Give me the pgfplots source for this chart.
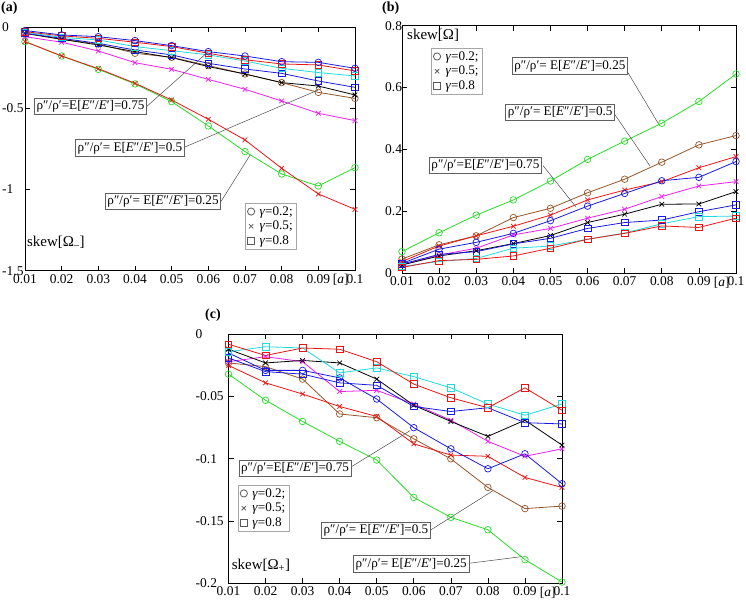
\documentclass[border=0pt]{standalone}
\usepackage{pgfplots}
\pgfplotsset{compat=1.18}
\usepackage{pgfplotstable}
\usepackage{fontspec}
\setmainfont{Liberation Serif}
\newcommand\fs{\fontsize{13.2}{15}\selectfont}
\newcommand\ft{\fontsize{13.5}{15}\selectfont}
\newcommand\fl{\fontsize{15}{17}\selectfont}
\definecolor{cgreen}{RGB}{40,220,40}
\definecolor{cred}{RGB}{235,20,20}
\definecolor{cblue}{RGB}{25,25,225}
\definecolor{cmag}{RGB}{235,30,235}
\definecolor{ccyan}{RGB}{30,220,220}
\definecolor{cbrown}{RGB}{150,85,40}

\pgfplotstableread{
x go rx bo rs cs bs kx bro mx
0.01 -0.088 -0.088 -0.020 -0.027 -0.031 -0.037 -0.037 -0.037 -0.058
0.02 -0.177 -0.177 -0.047 -0.053 -0.062 -0.068 -0.074 -0.074 -0.092
0.03 -0.259 -0.255 -0.058 -0.068 -0.078 -0.099 -0.109 -0.103 -0.146
0.04 -0.349 -0.345 -0.082 -0.092 -0.119 -0.140 -0.150 -0.160 -0.218
0.05 -0.458 -0.448 -0.113 -0.119 -0.144 -0.170 -0.187 -0.185 -0.259
0.06 -0.608 -0.567 -0.150 -0.160 -0.170 -0.222 -0.242 -0.236 -0.321
0.07 -0.766 -0.694 -0.177 -0.200 -0.208 -0.257 -0.288 -0.288 -0.382
0.08 -0.904 -0.869 -0.212 -0.226 -0.253 -0.284 -0.341 -0.341 -0.454
0.09 -0.978 -1.027 -0.216 -0.232 -0.279 -0.331 -0.362 -0.401 -0.530
0.10 -0.865 -1.122 -0.253 -0.269 -0.300 -0.370 -0.417 -0.438 -0.575
}\taba

\pgfplotstableread{
x go bro rx bo mx kx bs cs rs
0.01 0.070 0.046 0.038 0.032 0.027 0.027 0.030 0.022 0.019
0.02 0.131 0.092 0.088 0.078 0.059 0.056 0.061 0.038 0.041
0.03 0.188 0.121 0.121 0.100 0.081 0.073 0.070 0.048 0.045
0.04 0.237 0.180 0.152 0.129 0.124 0.096 0.095 0.081 0.056
0.05 0.298 0.210 0.188 0.170 0.145 0.122 0.113 0.088 0.081
0.06 0.368 0.260 0.237 0.217 0.178 0.164 0.145 0.110 0.110
0.07 0.427 0.304 0.269 0.258 0.207 0.191 0.164 0.130 0.129
0.08 0.485 0.359 0.296 0.299 0.248 0.223 0.172 0.160 0.153
0.09 0.555 0.415 0.341 0.310 0.282 0.224 0.199 0.183 0.148
0.10 0.644 0.445 0.377 0.361 0.296 0.264 0.221 0.185 0.178
}\tabb

\pgfplotstableread{
x go bro rx bo mx kx bs cs rs
0.01 -0.032 -0.023 -0.025 -0.015 -0.022 -0.012 -0.019 -0.014 -0.008
0.02 -0.053 -0.026 -0.039 -0.029 -0.018 -0.023 -0.030 -0.010 -0.017
0.03 -0.070 -0.036 -0.048 -0.029 -0.022 -0.021 -0.032 -0.011 -0.011
0.04 -0.086 -0.064 -0.058 -0.035 -0.046 -0.023 -0.039 -0.031 -0.012
0.05 -0.101 -0.067 -0.066 -0.052 -0.045 -0.036 -0.041 -0.027 -0.022
0.06 -0.131 -0.084 -0.088 -0.075 -0.056 -0.057 -0.058 -0.034 -0.040
0.07 -0.147 -0.100 -0.097 -0.092 -0.069 -0.070 -0.062 -0.043 -0.051
0.08 -0.157 -0.123 -0.098 -0.108 -0.086 -0.082 -0.059 -0.056 -0.059
0.09 -0.181 -0.140 -0.115 -0.096 -0.098 -0.069 -0.071 -0.065 -0.043
0.10 -0.199 -0.138 -0.123 -0.120 -0.092 -0.089 -0.072 -0.056 -0.061
}\tabc

\tikzset{
  lbox/.style={draw=gray!75!black, line width=0.8pt, fill=white, inner sep=2.2pt, font=\fs},
  lead/.style={draw=black!70, line width=0.5pt},
}
\pgfplotsset{
  panel/.style={
    scale only axis, clip=false,
    xmin=0.01, xmax=0.1,
    xtick={0.01,0.02,0.03,0.04,0.05,0.06,0.07,0.08,0.09,0.1},
    xticklabels={0.01,0.02,0.03,0.04,0.05,0.06,0.07,0.08,0.09,0.1},
    tick align=inside,
    major tick length=5bp,
    tick style={black, line width=0.6pt},
    axis line style={black, line width=0.9pt},
    x tick label style={font=\ft},
    y tick label style={font=\ft, anchor=west, inner xsep=0pt},
    legend cell align=left,
    legend style={draw=gray!70, line width=0.8pt, font=\fs, inner xsep=2pt, inner ysep=2pt,
      row sep=2.5pt, column sep=3pt, nodes={inner xsep=2pt, inner ysep=1pt}},
  },
  ser/.style={#1, line width=0.8pt, mark size=3.3bp, mark options={solid, line width=0.7pt}},
}

\begin{document}
\begin{tikzpicture}[x=1bp,y=1bp]
\useasboundingbox (0,0) rectangle (746,600);
\node[anchor=north west, font=\bfseries\fontsize{14}{16}\selectfont, inner sep=0pt] at (1,598) {(a)};
\node[anchor=north west, font=\bfseries\fontsize{14}{16}\selectfont, inner sep=0pt] at (382,598) {(b)};
\node[anchor=north west, font=\bfseries\fontsize{14}{16}\selectfont, inner sep=0pt] at (205,291) {(c)};

% ---------------- (a)
\begin{axis}[panel, at={(25bp,329.3bp)}, anchor=south west, width=330bp, height=243.4bp,
  ymin=-1.5, ymax=0, ytick={0,-0.5,-1,-1.5}, yticklabels={0,-0.5,-1,-1.5},
  yticklabel style={xshift=-23bp},
  legend style={at={(0.667,0.278)}, anchor=north west}]
\addlegendimage{only marks, mark=o, black!65, mark size=3.6bp}
\addlegendimage{only marks, mark=x, black!65, mark size=3bp}
\addlegendimage{only marks, mark=square, black!65, mark size=3.6bp}
\legend{\textit{γ}=0.2;,\textit{γ}=0.5;,\textit{γ}=0.8}
\addplot[ser=cgreen, mark=o] table[x=x,y=go]{\taba};
\addplot[ser=cred, mark=x] table[x=x,y=rx]{\taba};
\addplot[ser=cbrown, mark=o] table[x=x,y=bro]{\taba};
\addplot[ser=black, mark=x] table[x=x,y=kx]{\taba};
\addplot[ser=cmag, mark=x] table[x=x,y=mx]{\taba};
\addplot[ser=cblue, mark=square] table[x=x,y=bs]{\taba};
\addplot[ser=ccyan, mark=square] table[x=x,y=cs]{\taba};
\addplot[ser=cred, mark=square] table[x=x,y=rs]{\taba};
\addplot[ser=cblue, mark=o] table[x=x,y=bo]{\taba};
\draw[lead] (axis cs:0.0433,-0.486) -- (axis cs:0.0599,-0.152);
\draw[lead] (axis cs:0.0536,-0.738) -- (axis cs:0.0899,-0.387);
\draw[lead] (axis cs:0.0635,-1.072) -- (axis cs:0.0714,-0.787);
\node[lbox, anchor=east] at (axis cs:0.0433,-0.488) {ρ″/ρ′=E[\textit{E}″/\textit{E}′]=0.75};
\node[lbox, anchor=east] at (axis cs:0.0536,-0.744) {ρ″/ρ′= E[\textit{E}″/\textit{E}′]=0.5};
\node[lbox, anchor=east] at (axis cs:0.0635,-1.074) {ρ″/ρ′= E[\textit{E}″/\textit{E}′]=0.25};
\node[anchor=west, font=\fl, inner sep=0pt] at (axis description cs:0.006,0.118) {skew[Ω\textsubscript{–}]};
\node[anchor=north, font=\ft] at (axis description cs:0.957,0) {[\textit{a}]};
\end{axis}

% ---------------- (b)
\begin{axis}[panel, at={(402bp,326.7bp)}, anchor=south west, width=334bp, height=247.6bp,
  ymin=0, ymax=0.8, ytick={0,0.2,0.4,0.6,0.8}, yticklabels={0,0.2,0.4,0.6,0.8},
  yticklabel style={xshift=-17bp},
  legend style={at={(0.087,0.91)}, anchor=north west}]
\addlegendimage{only marks, mark=o, black!65, mark size=3.6bp}
\addlegendimage{only marks, mark=x, black!65, mark size=3bp}
\addlegendimage{only marks, mark=square, black!65, mark size=3.6bp}
\legend{\textit{γ}=0.2;,\textit{γ}=0.5;,\textit{γ}=0.8}
\addplot[ser=cgreen, mark=o] table[x=x,y=go]{\tabb};
\addplot[ser=cbrown, mark=o] table[x=x,y=bro]{\tabb};
\addplot[ser=cred, mark=x] table[x=x,y=rx]{\tabb};
\addplot[ser=cblue, mark=o] table[x=x,y=bo]{\tabb};
\addplot[ser=cmag, mark=x] table[x=x,y=mx]{\tabb};
\addplot[ser=black, mark=x] table[x=x,y=kx]{\tabb};
\addplot[ser=cblue, mark=square] table[x=x,y=bs]{\tabb};
\addplot[ser=ccyan, mark=square] table[x=x,y=cs]{\tabb};
\addplot[ser=cred, mark=square] table[x=x,y=rs]{\tabb};
\draw[lead] (axis cs:0.0709,0.648) -- (axis cs:0.0790,0.485);
\draw[lead] (axis cs:0.0674,0.512) -- (axis cs:0.0768,0.347);
\draw[lead] (axis cs:0.0480,0.348) -- (axis cs:0.0569,0.214);
\node[lbox, anchor=east] at (axis cs:0.0709,0.670) {ρ″/ρ′= E[\textit{E}″/\textit{E}′]=0.25};
\node[lbox, anchor=east] at (axis cs:0.0674,0.519) {ρ″/ρ′= E[\textit{E}″/\textit{E}′]=0.5};
\node[lbox, anchor=east] at (axis cs:0.0477,0.348) {ρ″/ρ′=E[\textit{E}″/\textit{E}′]=0.75};
\node[anchor=west, font=\fl, inner sep=0pt] at (axis description cs:0.015,0.962) {skew[Ω]};
\node[anchor=north, font=\ft] at (axis description cs:0.957,0) {[\textit{a}]};
\end{axis}

% ---------------- (c)
\begin{axis}[panel, at={(228.5bp,16.7bp)}, anchor=south west, width=333.5bp, height=249bp,
  ymin=-0.2, ymax=0, ytick={0,-0.05,-0.1,-0.15,-0.2}, yticklabels={0,-0.05,-0.1,-0.15,-0.2},
  yticklabel style={xshift=-33bp},
  legend style={at={(0.028,0.395)}, anchor=north west}]
\addlegendimage{only marks, mark=o, black!65, mark size=3.6bp}
\addlegendimage{only marks, mark=x, black!65, mark size=3bp}
\addlegendimage{only marks, mark=square, black!65, mark size=3.6bp}
\legend{\textit{γ}=0.2;,\textit{γ}=0.5;,\textit{γ}=0.8}
\addplot[ser=cgreen, mark=o] table[x=x,y=go]{\tabc};
\addplot[ser=cbrown, mark=o] table[x=x,y=bro]{\tabc};
\addplot[ser=cred, mark=x] table[x=x,y=rx]{\tabc};
\addplot[ser=cblue, mark=o] table[x=x,y=bo]{\tabc};
\addplot[ser=cmag, mark=x] table[x=x,y=mx]{\tabc};
\addplot[ser=black, mark=x] table[x=x,y=kx]{\tabc};
\addplot[ser=cblue, mark=square] table[x=x,y=bs]{\tabc};
\addplot[ser=ccyan, mark=square] table[x=x,y=cs]{\tabc};
\addplot[ser=cred, mark=square] table[x=x,y=rs]{\tabc};
\draw[lead] (axis cs:0.0432,-0.1063) -- (axis cs:0.0590,-0.0774);
\draw[lead] (axis cs:0.0646,-0.1571) -- (axis cs:0.0814,-0.1256);
\draw[lead] (axis cs:0.0750,-0.1839) -- (axis cs:0.0891,-0.1786);
\node[lbox, anchor=east] at (axis cs:0.0432,-0.1078) {ρ″/ρ′=E[\textit{E}″/\textit{E}′]=0.75};
\node[lbox, anchor=east] at (axis cs:0.0646,-0.1576) {ρ″/ρ′= E[\textit{E}″/\textit{E}′]=0.5};
\node[lbox, anchor=east] at (axis cs:0.0750,-0.1845) {ρ″/ρ′= E[\textit{E}″/\textit{E}′]=0.25};
\node[anchor=west, font=\fl, inner sep=0pt] at (axis description cs:0.0096,0.073) {skew[Ω\textsubscript{+}]};
\node[anchor=north, font=\ft] at (axis description cs:0.957,0) {[\textit{a}]};
\end{axis}
\end{tikzpicture}
\end{document}
